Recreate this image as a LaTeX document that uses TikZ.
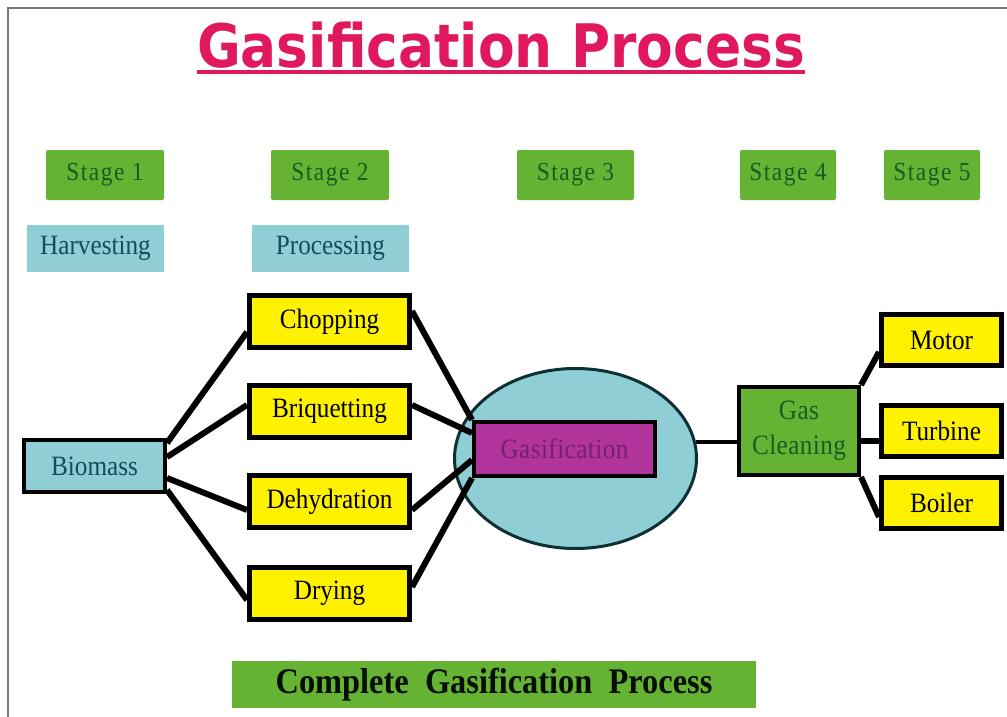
\documentclass[tikz,border=0pt]{standalone}
\usepackage{fontspec}
\setmainfont{Liberation Serif}
\newfontfamily\boxfont[FakeStretch=0.9]{Liberation Serif}
\newfontfamily\stagefont[FakeStretch=0.9,LetterSpace=6]{Liberation Serif}
\newfontfamily\gasfont[FakeStretch=0.9,LetterSpace=1.5]{Liberation Serif}
\newfontfamily\titlefont[FakeStretch=0.89]{DejaVu Sans}
\usetikzlibrary{shapes.geometric}
\definecolor{titlepink}{RGB}{224,25,95}
\definecolor{stagegreen}{RGB}{102,178,50}
\definecolor{stagetext}{RGB}{24,92,36}
\definecolor{tealfill}{RGB}{142,206,212}
\definecolor{tealtext}{RGB}{18,78,88}
\definecolor{procyellow}{RGB}{255,242,0}
\definecolor{gasmagenta}{RGB}{176,52,156}
\definecolor{gastext}{RGB}{118,30,118}
\definecolor{ellborder}{RGB}{14,47,51}
\definecolor{framegray}{RGB}{120,120,120}
\tikzset{stagebox/.style={rounded corners=2pt,fill=stagegreen,text=stagetext,
  minimum height=50pt,inner sep=0pt,font=\stagefont\fontsize{26}{30}\selectfont}}
\tikzset{labelbox/.style={fill=tealfill,text=tealtext,minimum height=47pt,
  inner sep=0pt,font=\boxfont\fontsize{28}{32}\selectfont}}
\tikzset{procbox/.style={draw=black,line width=5pt,fill=procyellow,
  minimum width=160pt,minimum height=52pt,inner sep=0pt,
  font=\boxfont\fontsize{28}{32}\selectfont}}
\tikzset{usebox/.style={procbox,minimum width=120pt,minimum height=51pt}}
\tikzset{link/.style={line width=6pt,black}}

\begin{document}
\begin{tikzpicture}
[x=1pt,y=-1pt]
\useasboundingbox (0,0) rectangle (1007,717);
\draw[framegray,line width=2.5pt] (8,717) -- (8,8) -- (1007,8);

% title
\node (title) at (501,67)[anchor=base,inner sep=0pt,text=titlepink,
  font=\titlefont\bfseries\fontsize{60}{70}\selectfont]{Gasification Process};
\draw[titlepink,line width=4pt] ([yshift=-5pt]title.base west) -- ([yshift=-5pt]title.base east);

% stages
\node (st1) at (105,175)[stagebox,minimum width=118pt]{Stage 1};
\node (st2) at (330,175)[stagebox,minimum width=118pt]{Stage 2};
\node (st3) at (575.5,175)[stagebox,minimum width=117pt]{Stage 3};
\node (st4) at (788,175)[stagebox,minimum width=96pt]{Stage 4};
\node (st5) at (932,175)[stagebox,minimum width=96pt]{Stage 5};
\node (harv) at (95.5,248.5)[labelbox,minimum width=137pt]{Harvesting};
\node (proc) at (330.5,248.5)[labelbox,minimum width=157pt]{Processing};

% biomass and processing
\node (bio) at (94.5,466)[labelbox,draw=black,line width=4pt,minimum width=141pt,minimum height=52pt]{Biomass};
\node (chop) at (329.5,321.5)[procbox]{Chopping};
\node (briq) at (329.5,411.5)[procbox]{Briquetting};
\node (dehy) at (329.5,501.5)[procbox]{Dehydration};
\node (dry) at (329.5,593.5)[procbox]{Drying};

% gasifier
\node (gasell) at (575.5,458.5)[ellipse,draw=ellborder,line width=3pt,fill=tealfill,
  minimum width=242pt,minimum height=180pt,inner sep=0pt]{};
\node (gasif) at (564.5,449)[draw=black,line width=4pt,fill=gasmagenta,text=gastext,
  minimum width=181pt,minimum height=54pt,inner sep=0pt,
  font=\gasfont\fontsize{28}{32}\selectfont]{Gasification};

\draw[link] ([yshift=23pt]bio.east) -- ([yshift=-10.5pt]chop.west);
\draw[link] ([yshift=9pt]bio.east) -- ([yshift=6.5pt]briq.west);
\draw[link] ([yshift=-12pt]bio.east) -- ([yshift=-8.5pt]dehy.west);
\draw[link] ([yshift=-24pt]bio.east) -- ([yshift=-6.5pt]dry.west);

\draw[link] ([yshift=10.5pt]chop.east) -- (gasif.north west);
\draw[link] ([yshift=6.5pt]briq.east) -- ([yshift=16pt]gasif.west);
\draw[link] ([yshift=-8.5pt]dehy.east) -- ([yshift=-11pt]gasif.west);
\draw[link] ([yshift=6.5pt]dry.east) -- (gasif.south west);

% cleaning and use
\node (clean) at (799,431)[draw=black,line width=4pt,fill=stagegreen,text=stagetext,
  minimum width=120pt,minimum height=88pt,inner sep=0pt,align=center,
  font=\gasfont\fontsize{28}{35}\selectfont]{Gas\\Cleaning};
\node (motor) at (941.5,340)[usebox]{Motor};
\node (turb) at (941.5,430.5)[usebox]{Turbine};
\node (boil) at (941.5,503)[usebox]{Boiler};

\draw[line width=4pt] (gasell.8) -- (gasell.8 -| clean.west);
\draw[link] (clean.north east) -- ([yshift=-12pt]motor.west);
\draw[link] ([yshift=-10pt]clean.east) -- ([yshift=-10.5pt]turb.west);
\draw[link] (clean.south east) -- ([yshift=-14pt]boil.west);

\node (total) at (494,684.5)[fill=stagegreen,text=black!85!stagetext,minimum width=524pt,
  minimum height=47pt,inner sep=0pt,
  font=\boxfont\bfseries\fontsize{36}{40}\selectfont]{Complete\ \ Gasification\ \ Process};
\end{tikzpicture}
\end{document}
